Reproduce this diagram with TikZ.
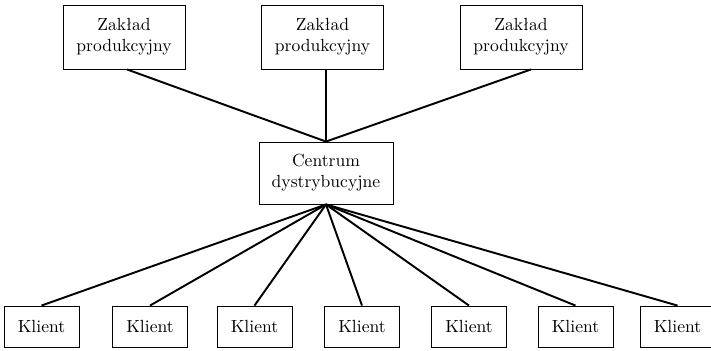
\documentclass[tikz,border=0pt]{standalone}
\usepackage{tikz}

\begin{document}
\begin{tikzpicture}[
	zaklad/.style={draw, line width=0.5pt, minimum width=2.44cm, minimum height=1.28cm, align=center, inner sep=1pt},
	centrum/.style={draw, line width=0.5pt, minimum width=2.68cm, minimum height=1.24cm, align=center, inner sep=1pt},
	klient/.style={draw, line width=0.5pt, minimum width=1.5cm, minimum height=0.82cm, inner sep=1pt},
	link/.style={line width=1.1pt}]
	\useasboundingbox (0, 0) rectangle (14.22, 7);

	\node [zaklad] (Z1) at (2.48, 6.26) {Zakład\\produkcyjny};
	\node [zaklad] (Z2) at (6.45, 6.26) {Zakład\\produkcyjny};
	\node [zaklad] (Z3) at (10.42, 6.26) {Zakład\\produkcyjny};

	\node [centrum] (C) at (6.52, 3.54) {Centrum\\dystrybucyjne};

	\foreach \x [count=\i] in {0.83, 3.0, 5.09, 7.24, 9.38, 11.51, 13.55} {
		\node [klient] (K\i) at (\x, 0.47) {Klient};
		\draw [link] (C.south) -- (K\i.north);
	}

	\draw [link] ([xshift=0.06cm]Z1.south) -- (C.north);
	\draw [link] (C.north |- Z2.south) -- (C.north);
	\draw [link] ([xshift=0.2cm]Z3.south) -- (C.north);
\end{tikzpicture}
\end{document}
